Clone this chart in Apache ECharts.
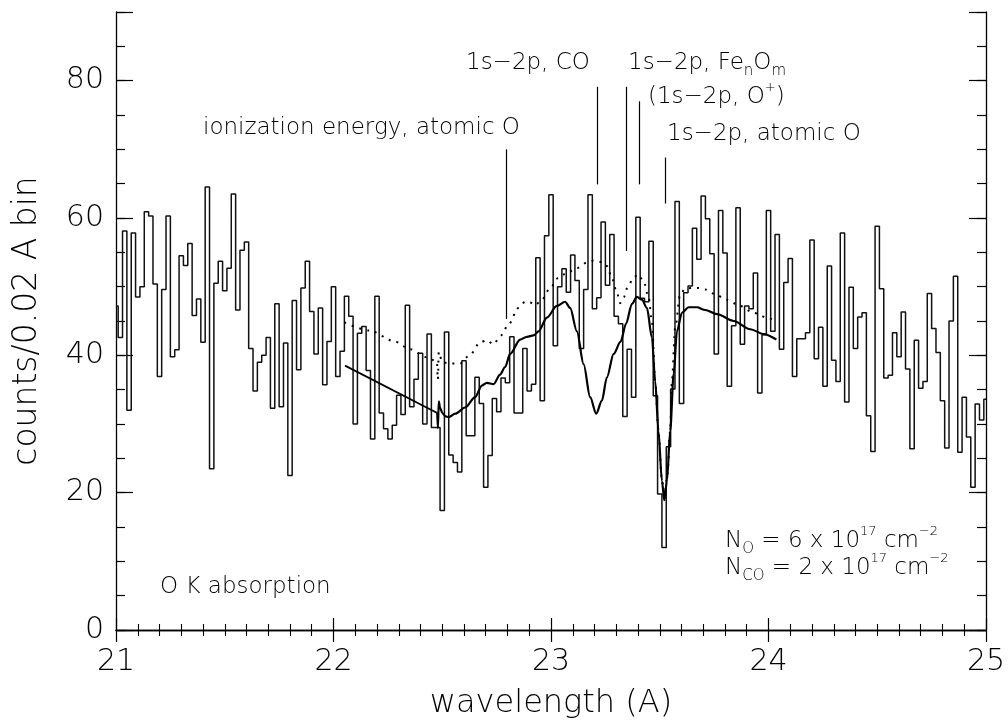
<!DOCTYPE html>
<html><head><meta charset="utf-8">
<script src="https://cdn.jsdelivr.net/npm/echarts@6/dist/echarts.min.js"></script>
<style>html,body{margin:0;padding:0;background:#fff}#c{width:1008px;height:725px}</style>
</head><body><div id="c"></div>
<script>
// ---- data ----
const binStart = 21.00;   // centre of first 0.02 A bin
const binWidth = 0.02;
const counts = [
 47.2,42.6,58.1,32.0,57.8,48.5,50.0,60.9,60.3,50.4,
 36.9,49.6,60.3,39.8,40.8,54.5,53.1,56.3,45.8,48.2,
 41.9,64.5,23.5,50.5,53.7,49.4,52.7,63.5,46.6,55.3,
 56.5,41.0,34.8,39.0,40.0,42.6,32.3,47.5,32.5,41.8,
 22.5,48.0,37.9,49.8,53.7,46.4,40.2,46.9,35.7,42.0,
 50.0,36.9,40.6,48.6,45.7,30.0,43.2,44.2,37.8,27.8,
 48.6,31.6,29.3,27.8,29.8,34.2,31.4,47.3,32.5,36.5,
 40.3,30.0,43.1,29.5,29.5,17.4,43.4,25.5,24.4,23.0,
 39.2,28.3,28.3,36.8,33.0,20.8,25.4,33.7,31.8,36.7,
 36.0,42.7,31.6,31.6,41.0,34.8,35.8,54.2,33.4,57.4,
 63.4,41.4,50.0,52.6,49.2,54.6,50.9,41.0,49.6,63.4,
 46.8,48.4,59.4,50.2,57.6,45.7,44.6,31.1,40.9,33.9,
 60.1,48.3,47.8,56.6,34.1,19.8,12.0,26.7,35.1,62.4,
 33.0,49.1,50.1,58.5,54.0,63.2,59.9,54.8,40.2,61.1,
 54.9,35.5,44.3,61.5,41.6,47.2,46.8,52.0,34.5,43.0,
 61.1,43.5,57.6,40.9,50.6,54.1,36.9,42.4,42.4,43.3,
 56.8,39.5,44.1,35.5,53.0,39.3,36.2,57.8,33.2,49.9,
 41.0,45.6,46.2,31.2,26.0,58.8,49.7,36.7,37.1,43.3,
 39.8,46.3,38.0,26.4,42.2,35.2,36.2,49.0,43.9,40.4,
 33.4,26.5,45.0,51.5,25.9,33.9,28.1,20.8,32.9,30.6,
 33.6
];
// model with O + CO (solid): straight continuum part, then absorption structure
const modelSolidContinuum = [[22.053,38.5],[22.477,31.6]];
const modelSolid = [
 [22.477,31.6],[22.480,29.4],[22.484,33.3],[22.490,32.4],[22.500,31.6],
 [22.515,31.1],[22.530,31.0],[22.560,31.5],[22.605,32.4],[22.651,33.9],[22.682,35.6],
 [22.705,36.0],[22.736,35.8],[22.766,37.2],[22.789,38.3],[22.812,40.2],[22.858,42.3],
 [22.889,42.7],[22.920,42.9],[22.943,43.5],[22.981,45.5],[23.027,47.2],[23.065,47.8],
 [23.088,46.9],[23.119,43.5],[23.150,38.7],[23.180,33.9],[23.208,31.5],[23.234,33.4],
 [23.257,36.8],[23.288,40.2],[23.320,42.0],[23.345,44.6],[23.372,47.5],[23.395,48.5],
 [23.418,48.1],[23.441,46.9],[23.464,42.6],[23.479,36.3],[23.494,29.0],[23.510,21.7],
 [23.521,18.9],[23.533,21.7],[23.548,29.0],[23.564,37.3],[23.579,43.5],[23.602,46.2],
 [23.633,47.0],[23.671,47.0],[23.709,46.6],[23.763,46.0],[23.840,45.0],[23.916,43.8],
 [23.978,43.1],[24.036,42.3]
];
// model with atomic O only (dotted)
const modelDotted = [
 [22.050,44.8],[22.168,43.6],[22.276,42.1],[22.352,40.9],[22.429,39.7],[22.475,39.1],
 [22.480,36.5],[22.484,40.5],[22.500,39.0],[22.536,38.8],[22.582,38.8],[22.628,40.1],
 [22.674,41.9],[22.705,42.2],[22.735,41.6],[22.770,42.9],[22.805,44.5],[22.850,46.9],
 [22.881,47.8],[22.904,47.7],[22.927,47.3],[22.958,48.1],[22.996,49.8],[23.034,51.3],
 [23.073,52.0],[23.119,52.7],[23.165,53.5],[23.195,53.8],[23.234,53.6],[23.257,53.0],
 [23.280,51.3],[23.303,49.1],[23.318,47.6],[23.335,48.5],[23.354,50.1],[23.380,51.3],
 [23.399,51.8],[23.426,50.8],[23.449,48.4],[23.464,45.0],[23.479,36.3],[23.494,29.0],
 [23.510,21.9],[23.522,19.8],[23.535,22.5],[23.548,29.0],[23.556,36.3],[23.571,44.0],
 [23.594,48.9],[23.617,49.7],[23.648,49.8],[23.679,49.8],[23.709,49.6],[23.748,49.0],
 [23.809,48.1],[23.870,47.2],[23.931,46.2],[23.993,45.5],[24.031,45.0]
];
// feature marker lines
const featureX      = [22.794, 23.214, 23.344, 23.405, 23.525];
const featureTop    = [70.0,   79.1,   79.1,   77.0,   68.8];
const featureBottom = [45.3,   64.9,   55.2,   64.9,   62.1];
// axes
const xRange = [21, 25];
const yRange = [0, 90];
const xMajor = 1, xMinorSplit = 10;
const yMajor = 20, yMinor = 5;

// ---- chart ----
const FONT = 'DejaVu Sans';
const FW = 200;
const chart = echarts.init(document.getElementById('c'), null, {renderer: 'canvas'});

const histData = counts.map((c, i) => [+(binStart + i * binWidth).toFixed(2), c]);

const axisLine = {show: true, lineStyle: {color: '#000', width: 1.3}};
function xAx(pos, labels) {
  return {
    type: 'value', position: pos, min: xRange[0], max: xRange[1], interval: xMajor,
    name: labels ? 'wavelength (A)' : '', nameLocation: 'middle', nameGap: 58,
    nameTextStyle: {fontFamily: FONT, fontWeight: FW, fontSize: 32, color: '#000'},
    axisLine: axisLine,
    axisTick: {show: true, inside: true, length: 12, lineStyle: {color: '#000', width: 1.2}},
    minorTick: {show: true, splitNumber: xMinorSplit, length: 6, lineStyle: {color: '#000', width: 1.1}},
    axisLabel: {show: labels, margin: 17, fontFamily: FONT, fontWeight: FW, fontSize: 30, color: '#000'},
    splitLine: {show: false}, minorSplitLine: {show: false}
  };
}
function yAx(pos, major, labels) {
  return {
    type: 'value', position: pos, min: yRange[0], max: yRange[1],
    interval: major ? yMajor : yMinor,
    name: labels ? 'counts/0.02 A bin' : '', nameLocation: 'middle', nameGap: 72, nameRotate: 90,
    nameTextStyle: {fontFamily: FONT, fontWeight: FW, fontSize: 33, color: '#000'},
    axisLine: major ? axisLine : {show: false},
    axisTick: {show: true, inside: true, length: major ? 17 : 9, lineStyle: {color: '#000', width: 1.2}},
    axisLabel: {show: labels, margin: 12, fontFamily: FONT, fontWeight: FW, fontSize: 30, color: '#000',
      formatter: v => (v % yMajor === 0 && v < yRange[1]) ? String(v) : ''},
    splitLine: {show: false}
  };
}

const markLines = featureX.map((x, i) => [{coord: [x, featureTop[i]]}, {coord: [x, featureBottom[i]]}]);

const txt = (x, y, text, extra) => ({
  type: 'text', x: x, y: y, silent: true,
  style: Object.assign({
    text: text, fill: '#000', fontFamily: FONT, fontWeight: FW, fontSize: 23,
    align: 'left', verticalAlign: 'middle', lineHeight: 32,
    rich: {
      sub: {fontFamily: FONT, fontWeight: FW, fontSize: 15, verticalAlign: 'bottom', fill: '#000'},
      sup: {fontFamily: FONT, fontWeight: FW, fontSize: 13, verticalAlign: 'top', fill: '#000'}
    }
  }, extra || {})
});

chart.setOption({
  animation: false,
  backgroundColor: '#fff',
  grid: {left: 116, right: 22, top: 12, bottom: 95, containLabel: false, outerBoundsMode: 'none'},
  xAxis: [xAx('bottom', true), xAx('top', false)],
  yAxis: [yAx('left', true, true), yAx('left', false, false), yAx('right', true, false), yAx('right', false, false)],
  series: [
    {
      type: 'line', step: 'middle', data: histData, symbol: 'none', clip: true,
      lineStyle: {color: '#111', width: 1.5}, z: 2
    },
    {
      type: 'line', data: modelDotted, symbol: 'none', smooth: 0.3, smoothMonotone: 'x', clip: true,
      lineStyle: {color: '#000', width: 2, type: [2, 6]}, z: 3
    },
    {
      type: 'line', data: modelSolidContinuum, symbol: 'none', smooth: false, clip: true,
      lineStyle: {color: '#000', width: 1.8}, z: 4
    },
    {
      type: 'line', data: modelSolid, symbol: 'none', smooth: 0.3, smoothMonotone: 'x', clip: true,
      lineStyle: {color: '#000', width: 2.2}, z: 4
    },
    {
      type: 'line', data: [], symbol: 'none',
      markLine: {silent: true, symbol: 'none', label: {show: false},
        lineStyle: {color: '#000', width: 1.2, type: 'solid'}, data: markLines}
    }
  ],
  graphic: [
    txt(203, 128, 'ionization energy, atomic O'),
    txt(466, 63, '1s−2p, CO'),
    txt(628, 63, '1s−2p, Fe{sub|n}O{sub|m}'),
    txt(648, 97, '(1s−2p, O{sup|+})'),
    txt(667, 134, '1s−2p, atomic O'),
    txt(725, 541, 'N{sub|O} = 6 x 10{sup|17} cm{sup|−2}'),
    txt(725, 568, 'N{sub|CO} = 2 x 10{sup|17} cm{sup|−2}'),
    txt(160, 587, 'O K absorption')
  ]
});
</script>
</body></html>
